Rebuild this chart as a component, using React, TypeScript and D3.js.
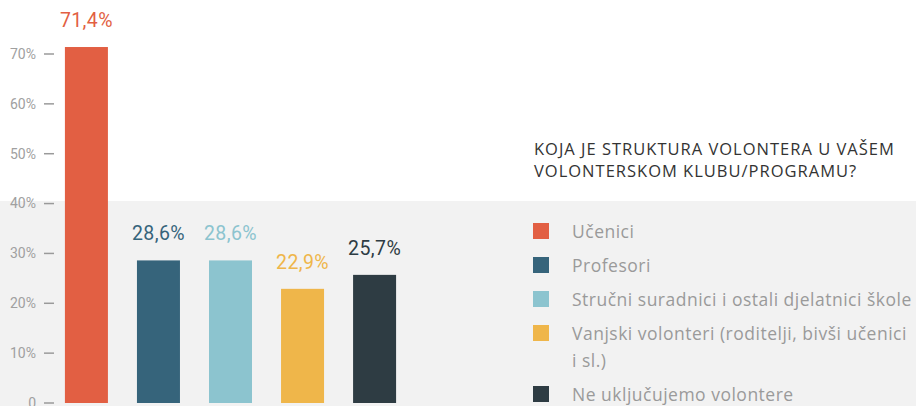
import React from "react";
import * as d3 from "d3";

const categories = [
  "Učenici",
  "Profesori",
  "Stručni suradnici i ostali djelatnici škole",
  "Vanjski volonteri (roditelji, bivši učenici i sl.)",
  "Ne uključujemo volontere",
];
const legendLines = [
  ["Učenici"],
  ["Profesori"],
  ["Stručni suradnici i ostali djelatnici škole"],
  ["Vanjski volonteri (roditelji, bivši učenici", "i sl.)"],
  ["Ne uključujemo volontere"],
];
const values = [71.4, 28.6, 28.6, 22.9, 25.7];
const valueLabels = ["71,4%", "28,6%", "28,6%", "22,9%", "25,7%"];
const colors = ["#e25f43", "#36647b", "#8cc4cf", "#efb64a", "#2e3c43"];
const tickValues = [0, 10, 20, 30, 40, 50, 60, 70];
const tickLabels = ["0", "10%", "20%", "30%", "40%", "50%", "60%", "70%"];
const titleLines = ["KOJA JE STRUKTURA VOLONTERA U VAŠEM", "VOLONTERSKOM KLUBU/PROGRAMU?"];

const W = 916;
const H = 406;
const FONT = "Roboto, 'Noto Sans', sans-serif";
const LEGEND_FONT = "'Open Sans', 'Noto Sans', sans-serif";

export default function App() {
  const y = d3.scaleLinear().domain([0, 70]).range([403, 54]);
  const x = d3
    .scaleBand<string>()
    .domain(categories)
    .range([50.5, 410.5])
    .paddingInner(0.403)
    .paddingOuter(0.2);

  let legendY = 231;
  const legendRows = legendLines.map((lines, i) => {
    const row = { lines, y: legendY, color: colors[i] };
    legendY += 34 + (lines.length - 1) * 27;
    return row;
  });

  return (
    <div style={{ position: "absolute", left: 0, top: 0, width: W, height: H }}>
      <svg width={W} height={H} style={{ display: "block", fontFamily: FONT }}>
        <rect x={0} y={201} width={W} height={H - 201} fill="#f2f2f2" />
        {tickValues.map((t, i) => (
          <g key={t}>
            <line x1={44} x2={54} y1={y(t)} y2={y(t)} stroke="#9a9a9a" strokeWidth={1.5} />
            <text x={36} y={y(t)} dy="0.35em" textAnchor="end" fontSize={14} fill="#a0a0a0">
              {tickLabels[i]}
            </text>
          </g>
        ))}
        {categories.map((c, i) => (
          <g key={c}>
            <rect
              x={x(c)}
              y={y(values[i])}
              width={x.bandwidth()}
              height={y(0) - y(values[i])}
              fill={colors[i]}
            />
            <text
              x={(x(c) as number) + x.bandwidth() / 2}
              y={y(values[i]) - 20}
              textAnchor="middle"
              fontSize={19.5}
              letterSpacing={0.4}
              fill={colors[i]}
            >
              {valueLabels[i]}
            </text>
          </g>
        ))}
        {titleLines.map((t, i) => (
          <text
            key={t}
            x={534}
            y={155 + i * 22}
            fontSize={16.5}
            letterSpacing={1}
            fill="#333"
            style={{ fontFamily: LEGEND_FONT }}
          >
            {t}
          </text>
        ))}
        {legendRows.map((r, i) => (
          <g key={i}>
            <rect x={533} y={r.y - 8} width={16} height={16} fill={r.color} />
            {r.lines.map((l, j) => (
              <text
                key={j}
                x={572}
                y={r.y + 7 + j * 27}
                fontSize={17.5}
                letterSpacing={0.5}
                fill="#9a9a9a"
                style={{ fontFamily: LEGEND_FONT }}
              >
                {l}
              </text>
            ))}
          </g>
        ))}
      </svg>
    </div>
  );
}
